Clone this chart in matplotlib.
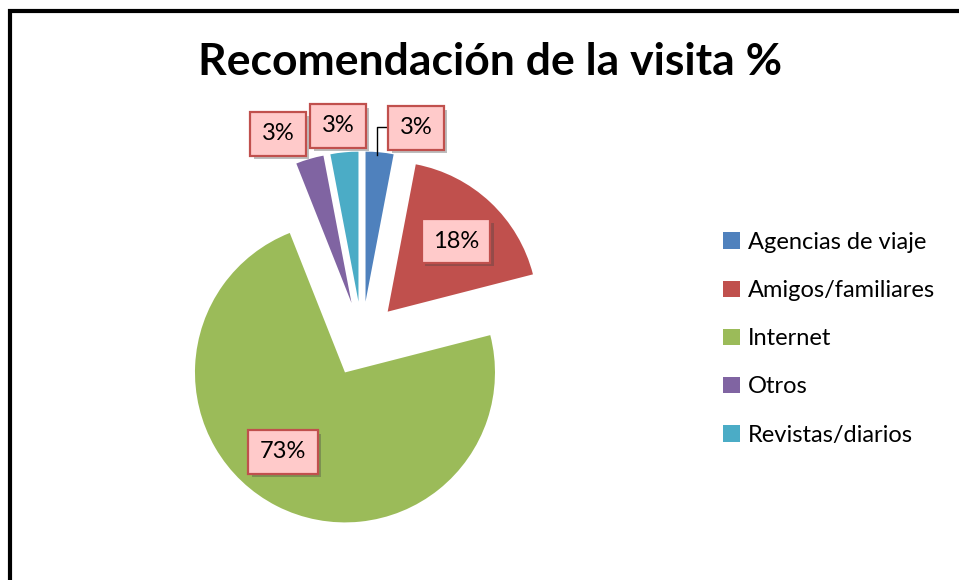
import matplotlib
matplotlib.use('Agg')
import matplotlib.pyplot as plt
import matplotlib.patheffects as pe
from matplotlib.patches import Rectangle

# data
categorias = ['Agencias de viaje', 'Amigos/familiares', 'Internet', 'Otros', 'Revistas/diarios']
valores = [3, 18, 73, 3, 3]
colores = ['#4F81BD', '#C0504D', '#9BBB59', '#8064A2', '#4BACC6']
titulo = 'Recomendación de la visita %'

W, H = 959, 580
fuente = 'Lato'

fig = plt.figure(figsize=(W/100, H/100), dpi=100)
ax = fig.add_axes([0, 0, 1, 1])

# pie in pixel units (y measured upwards)
cx, cy, rad = 362, H - 339, 150
wedges, _ = ax.pie(valores, colors=colores, startangle=90, counterclock=False,
                   explode=[0.25*rad]*len(valores), center=(cx, cy), radius=rad,
                   wedgeprops=dict(linewidth=0))
ax.set_xlim(0, W)
ax.set_ylim(0, H)
ax.set_aspect('equal')
ax.axis('off')

# label boxes (positions in pixels from the top-left corner)
pos_etiquetas = [(416, 128), (456, 241), (283, 452), (278, 134), (338, 126)]
for v, (px, py) in zip(valores, pos_etiquetas):
    t = ax.text(px, H - py, '%d%%' % v, ha='center', va='center', fontsize=17, family=fuente,
                color='black', zorder=5,
                bbox=dict(boxstyle='square,pad=0.48', fc='#FFCACA', ec='#C0504D', lw=1.6))
    t.get_bbox_patch().set_path_effects([
        pe.SimplePatchShadow(offset=(2.5, -2.5), shadow_rgbFace='#444444', alpha=0.35),
        pe.Normal()])

# leader line for Agencias de viaje
ax.plot([377, 377, 392], [H - 155, H - 127, H - 127], color='black', lw=1, zorder=3)

fig.text(490/W, 1 - 62/H, titulo, ha='center', va='center', fontsize=32,
         fontweight='bold', family=fuente)

leg = fig.legend(wedges, categorias, loc='upper left', bbox_to_anchor=(723/W, 1 - 232/H),
                 frameon=False, borderpad=0, borderaxespad=0,
                 handlelength=0.7, handleheight=0.7, handletextpad=0.35,
                 labelspacing=1.15, prop=dict(family=fuente, size=17))

# chart border
fig.add_artist(Rectangle((10/W, -0.1), 1.1, 1 - 11/H + 0.1, transform=fig.transFigure,
                         fill=False, ec='black', lw=3))

fig.savefig('out.png', dpi=100)
